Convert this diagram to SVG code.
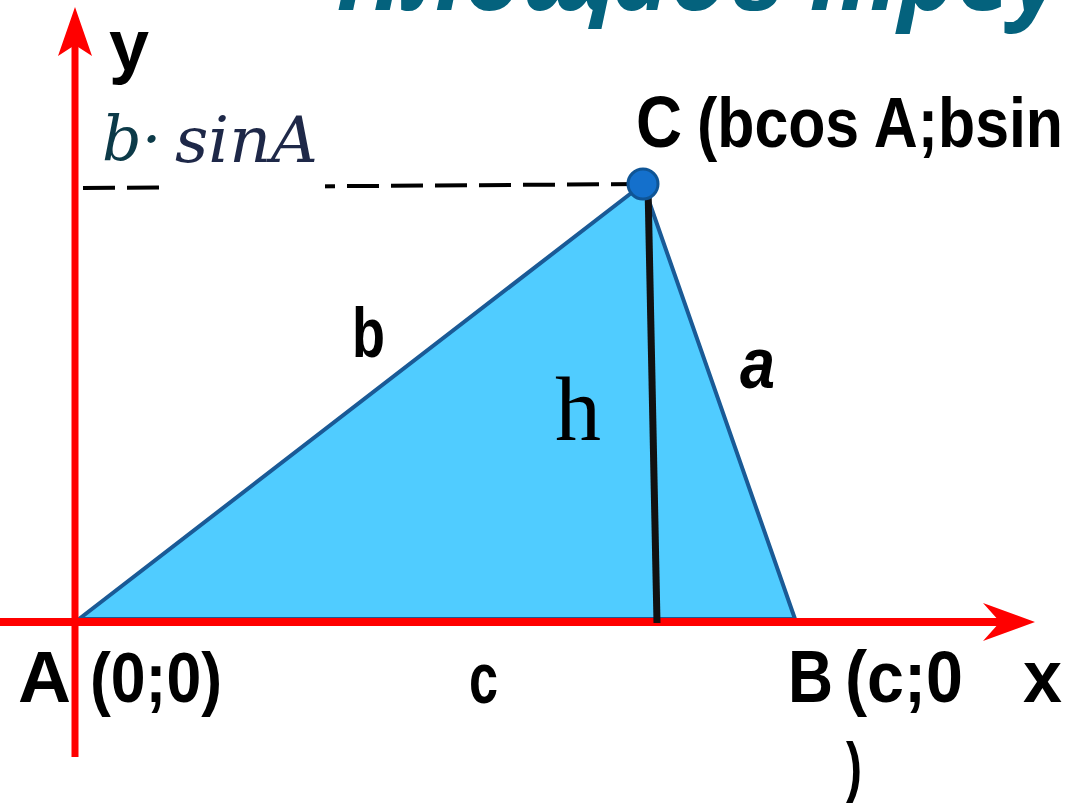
<svg xmlns="http://www.w3.org/2000/svg" width="1066" height="805" viewBox="0 0 1066 805">
<style>
.lbl{font-family:"Liberation Sans",Arial,sans-serif;font-weight:bold;fill:#000;}
.math{font-family:"DejaVu Serif",serif;font-style:italic;}
.axis{stroke:#FF0000;fill:none;}
</style>
<rect width="1066" height="805" fill="#FFFFFF"/>
<g id="title">
<text x="336" y="10" font-family="'Open Sans',sans-serif" font-weight="bold" font-style="italic" font-size="98" fill="#04627D">Площадь треу</text>
</g>
<g id="triangle">
<polygon points="79,619 643,184 795,619" fill="#50CCFF" stroke="#1A5A96" stroke-width="4" stroke-linejoin="round"/>
</g>
<g id="connectors">
<line x1="83" y1="188" x2="643" y2="184" stroke="#000" stroke-width="4" stroke-dasharray="32 12"/>
<line class="axis" x1="0" y1="622" x2="1005" y2="622" stroke-width="8"/>
<polygon points="1035,622 983,603 1000,622 983,641" fill="#FF0000"/>
<line class="axis" x1="75" y1="757" x2="75" y2="40" stroke-width="7"/>
<polygon points="75,7 58,56 75,45 92,56" fill="#FF0000"/>
<line x1="648" y1="186" x2="657" y2="623" stroke="#111111" stroke-width="7"/>
</g>
<g id="pointC">
<circle cx="643" cy="184" r="15" fill="#1470CC" stroke="#0F5596" stroke-width="3"/>
</g>
<g id="sinA-label">
<rect x="159" y="95" width="166" height="97" fill="#FFFFFF"/>
<text class="math" x="102" y="160" font-size="62" fill="#0C3A48">b·</text>
<text class="math" x="175" y="162" font-size="64" fill="#1E2848" textLength="143" lengthAdjust="spacingAndGlyphs">sinA</text>
</g>
<g id="labels">
<text class="lbl" x="109" y="70" font-size="72">y</text>
<text class="lbl" x="636" y="147" font-size="72" textLength="46" lengthAdjust="spacingAndGlyphs">C</text>
<text class="lbl" x="697" y="147" font-size="70" textLength="366" lengthAdjust="spacingAndGlyphs">(bcos A;bsin</text>
<text class="lbl" x="352" y="357" font-size="70" textLength="33" lengthAdjust="spacingAndGlyphs">b</text>
<text class="lbl" x="740" y="388" font-size="73" font-style="italic" textLength="35" lengthAdjust="spacingAndGlyphs">a</text>
<text x="555" y="440" font-family="'Liberation Serif',serif" font-size="92" fill="#000">h</text>
<text class="lbl" x="18" y="702" font-size="72" textLength="53" lengthAdjust="spacingAndGlyphs">A</text>
<text class="lbl" x="90" y="702" font-size="70" textLength="132" lengthAdjust="spacingAndGlyphs">(0;0)</text>
<text class="lbl" x="469" y="703" font-size="72" textLength="29" lengthAdjust="spacingAndGlyphs">c</text>
<text class="lbl" x="788" y="702" font-size="75" textLength="45" lengthAdjust="spacingAndGlyphs">B</text>
<text class="lbl" x="845" y="702" font-size="72" textLength="118" lengthAdjust="spacingAndGlyphs">(c;0</text>
<text class="lbl" x="846" y="789" font-size="67" textLength="16" lengthAdjust="spacingAndGlyphs">)</text>
<text class="lbl" x="1023" y="702" font-size="75" textLength="39" lengthAdjust="spacingAndGlyphs">x</text>
</g>
</svg>
